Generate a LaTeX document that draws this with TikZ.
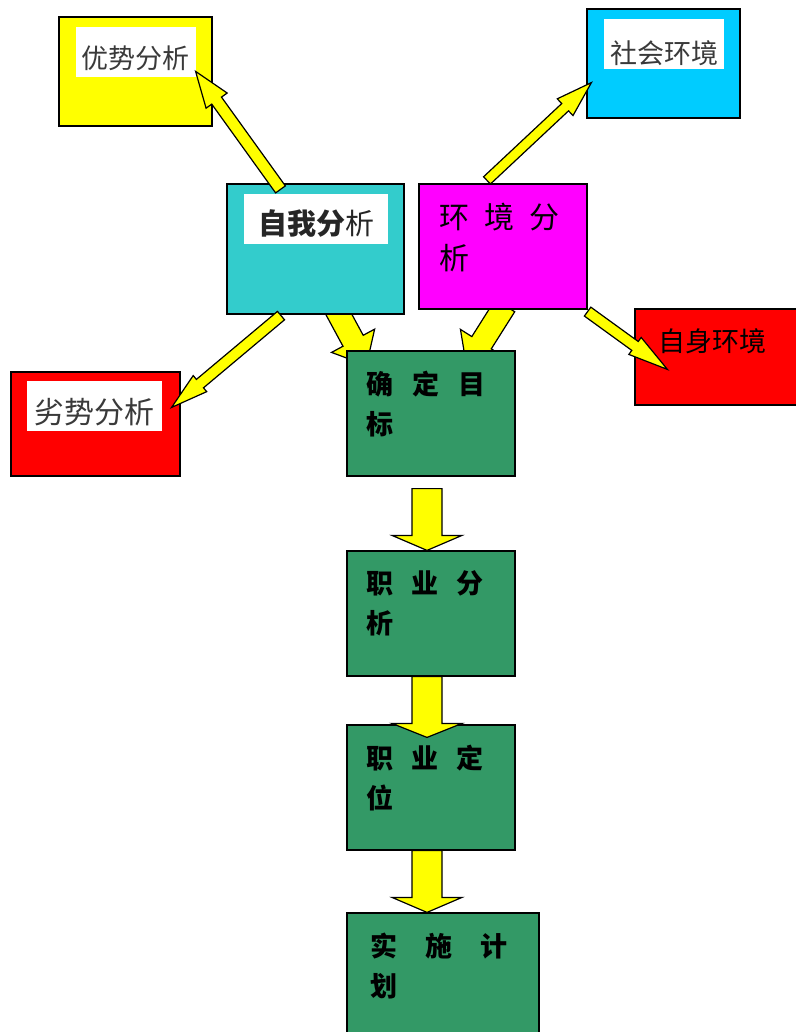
\documentclass[tikz,border=0pt]{standalone}
\usepackage{fontspec}
\newfontfamily\cjk{Noto Sans CJK SC}
\usepackage{xcolor}
\usetikzlibrary{calc}
\pgfdeclarelayer{background}
\pgfsetlayers{background,main}

\definecolor{tealbox}{HTML}{33CCCC}
\definecolor{magentabox}{HTML}{FF00FF}
\definecolor{cyanbox}{HTML}{00CCFF}
\definecolor{redbox}{HTML}{FF0000}
\definecolor{yellowbox}{HTML}{FFFF00}
\definecolor{greenbox}{HTML}{339966}
\definecolor{labelgray}{HTML}{3A3A3A}

\tikzset{
  box/.style={draw=black, line width=1.2pt, inner sep=0pt, minimum width=168pt, minimum height=125pt},
  whitelabel/.style={fill=white, inner sep=0pt, minimum width=120pt, minimum height=50pt, text height=33pt, text depth=0pt,
    text=labelgray, font=\cjk\fontsize{27}{30}\selectfont},
  steptext/.style={anchor=north west, inner sep=0pt, align=left, font=\cjk\bfseries\fontsize{27}{40}\selectfont},
  yarrow/.style={fill=yellowbox, draw=black, line width=1.2pt, line join=miter},
}

% block arrow: tail, tip, half shaft, half head, head length
\newcommand{\blockarrow}[5]{%
  \coordinate (neck) at ($(#2)!#5!(#1)$);
  \draw[yarrow] ($(#1)!#3!90:(#2)$) -- ($(neck)!#3!90:(#2)$) -- ($(neck)!#4!90:(#2)$) -- (#2)
    -- ($(neck)!#4!-90:(#2)$) -- ($(neck)!#3!-90:(#2)$) -- ($(#1)!#3!-90:(#2)$) -- cycle;}

\begin{document}
\begin{tikzpicture}[x=1pt,y=-1pt]
  \useasboundingbox (0,0) rectangle (795,1032);

  % top boxes
  \node[box, fill=yellowbox, minimum width=153pt, minimum height=109pt] (ysfx) at (135.5,71.5) {};
  \node[box, fill=tealbox, minimum width=177pt, minimum height=130pt] (zwfx) at (315.5,249) {};
  \node[box, fill=magentabox] (hjfx) at (503,246.5) {};
  \node[box, fill=cyanbox, minimum width=153pt, minimum height=109pt] (shhj) at (663.5,63.5) {};
  \node[box, fill=redbox, minimum width=169pt, minimum height=104pt] (lsfx) at (95.5,424) {};
  \node[box, fill=redbox, minimum width=165pt, minimum height=96pt] (zshj) at (717.5,357) {};

  % steps
  \node[box, fill=greenbox] (qdmb) at (431,413.5) {};
  \node[box, fill=greenbox] (zyfx) at (431,613.5) {};
  \node[box, fill=greenbox] (zydw) at (431,787.5) {};
  \node[box, fill=greenbox, minimum width=192pt, minimum height=132pt] (ssjh) at (443,979) {};

  % labels
  \node[whitelabel] (ysfx-t) at ($(ysfx.north)+(0,36)$) {优势分析};
  \node[whitelabel, minimum width=144pt, text height=31pt, text=black!85, font=\cjk\fontsize{29}{30}\selectfont]
    (zwfx-t) at ($(zwfx.north)+(0.5,36)$) {{\bfseries 自我分}析};
  \node[whitelabel, text height=38pt] (shhj-t) at ($(shhj.north)+(0.5,36)$) {社会环境};
  \node[whitelabel, minimum width=135pt, text height=35pt, font=\cjk\fontsize{30}{30}\selectfont]
    (lsfx-t) at ($(lsfx.north)+(-1,35)$) {劣势分析};
  \node[inner sep=0pt, font=\cjk\fontsize{27}{30}\selectfont] (zshj-t) at ($(zshj.north west)+(78,33)$) {自身环境};
  \node[anchor=north west, inner sep=0pt, align=left, font=\cjk\fontsize{30}{41}\selectfont] (hjfx-t)
    at ($(hjfx.north west)+(21,20)$) {环\hspace{15pt}境\hspace{15pt}分\\析};

  \node[steptext] (qdmb-t) at ($(qdmb.north west)+(20,20)$) {确\hspace{19pt}定\hspace{19pt}目\\标};
  \node[steptext] (zyfx-t) at ($(zyfx.north west)+(20,20)$) {职\hspace{18pt}业\hspace{18pt}分\\析};
  \node[steptext] (zydw-t) at ($(zydw.north west)+(20,20)$) {职\hspace{18pt}业\hspace{18pt}定\\位};
  \node[steptext] (ssjh-t) at ($(ssjh.north west)+(24,20)$) {实\hspace{28pt}施\hspace{28pt}计\\划};

  % arrow ends
  \coordinate (zw-ys-s) at ($(zwfx.north)+(-35,6)$);
  \coordinate (zw-ys-e) at ($(ysfx.north east)+(-17,55)$);
  \coordinate (hj-sh-s) at ($(hjfx.north)+(-16,-3)$);
  \coordinate (hj-sh-e) at ($(shhj.south west)+(5,-36)$);
  \coordinate (zw-ls-s) at ($(zwfx.south)+(-34.5,1)$);
  \coordinate (zw-ls-e) at ($(lsfx.north east)+(-9,36)$);
  \coordinate (zw-qd-s) at ($(zwfx.south)+(17.5,-11)$);
  \coordinate (zw-qd-e) at ($(qdmb.north west)+(20,15)$);
  \coordinate (hj-qd-s) at ($(hjfx.south)+(2,-4)$);
  \coordinate (hj-qd-e) at ($(qdmb.north east)+(-49,16)$);
  \coordinate (hj-zs-s) at ($(hjfx.south east)+(0,2)$);
  \coordinate (hj-zs-e) at ($(zshj.north west)+(33,61)$);

  \blockarrow{zw-ys-s}{zw-ys-e}{6pt}{13pt}{36pt}
  \blockarrow{hj-sh-s}{hj-sh-e}{5pt}{11.5pt}{36pt}
  \blockarrow{zw-ls-s}{zw-ls-e}{5.5pt}{10.5pt}{37pt}
  \blockarrow{hj-zs-s}{hj-zs-e}{5.5pt}{10.5pt}{40pt}
  \begin{pgfonlayer}{background}
    \blockarrow{zw-qd-s}{zw-qd-e}{11.5pt}{24.5pt}{28pt}
    \blockarrow{hj-qd-s}{hj-qd-e}{11.5pt}{25pt}{28pt}
  \end{pgfonlayer}

  % down the steps
  \coordinate (qd-zy-s) at ($(qdmb.south)+(-4,12)$);
  \coordinate (zy-zd-e) at ($(zydw.north)+(-4,13)$);
  \blockarrow{qd-zy-s}{$(zyfx.north)+(-4,0)$}{15pt}{35pt}{15pt}
  \blockarrow{$(zyfx.south)+(-4,0)$}{zy-zd-e}{15pt}{35pt}{14pt}
  \blockarrow{$(zydw.south)+(-4,0)$}{$(ssjh.north)+(-16,0)$}{15pt}{35pt}{15pt}
\end{tikzpicture}
\end{document}
